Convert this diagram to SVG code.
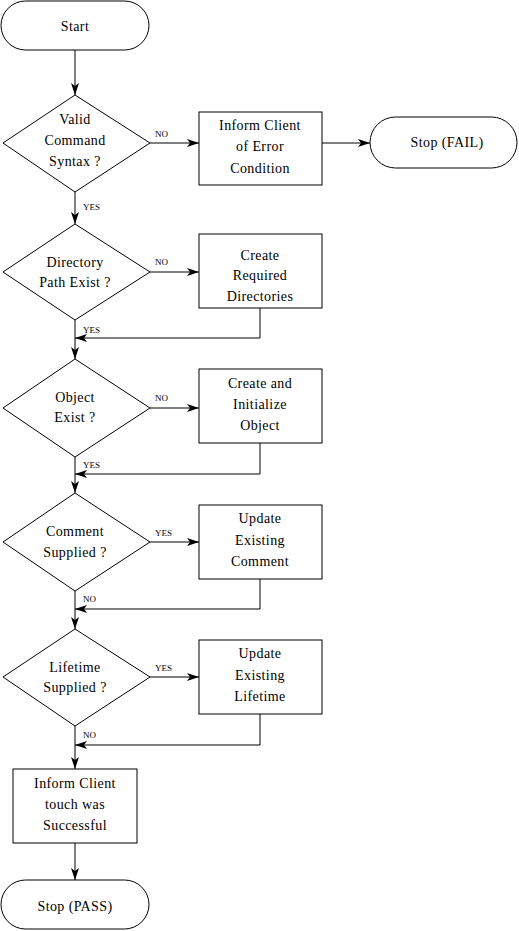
<svg xmlns="http://www.w3.org/2000/svg" width="519" height="931" viewBox="0 0 519 931">
<style>
.s{fill:#fff;stroke:#000;stroke-width:1}
.t{font-family:"Liberation Serif","Times New Roman",serif;font-size:14px;fill:#000;text-anchor:middle;letter-spacing:0.4px}
.l{font-family:"Liberation Serif","Times New Roman",serif;font-size:9px;fill:#000}
.c{fill:none;stroke:#000;stroke-width:1;marker-end:url(#ah)}
</style>
<defs>
<marker id="ah" markerUnits="userSpaceOnUse" viewBox="0 0 12 8" refX="12" refY="4" markerWidth="12" markerHeight="8" orient="auto">
<path d="M0,0 L12,4 L0,8 L3,4 z" fill="#000"/>
</marker>
</defs>
<g id="connectors">
<path class="c" d="M75,50 V95"/>
<path class="c" d="M150,143 H199"/>
<path class="c" d="M322,143 H370"/>
<path class="c" d="M75,192 V224"/>
<path class="c" d="M150,272 H199"/>
<path class="c" d="M260,308 V338 H75"/>
<path class="c" d="M75,320 V359"/>
<path class="c" d="M150,408 H199"/>
<path class="c" d="M260,443 V474 H75"/>
<path class="c" d="M75,457 V493"/>
<path class="c" d="M150,542 H199"/>
<path class="c" d="M260,579 V609 H75"/>
<path class="c" d="M75,591 V629"/>
<path class="c" d="M150,677 H199"/>
<path class="c" d="M260,714 V745 H75"/>
<path class="c" d="M75,726 V769"/>
<path class="c" d="M75,843 V880"/>
<text class="l" x="155" y="137">NO</text>
<text class="l" x="83" y="210">YES</text>
<text class="l" x="155" y="265">NO</text>
<text class="l" x="83" y="333">YES</text>
<text class="l" x="155" y="401">NO</text>
<text class="l" x="83" y="468">YES</text>
<text class="l" x="155" y="536">YES</text>
<text class="l" x="83" y="602">NO</text>
<text class="l" x="155" y="671">YES</text>
<text class="l" x="83" y="738">NO</text>
</g>
<g id="start">
<rect class="s" x="1" y="1" width="148" height="49" rx="24.5"/>
<text class="t" x="75" y="31">Start</text>
</g>
<g id="valid-syntax">
<polygon class="s" points="75,95 150,143 75,192 3,143"/>
<text class="t" x="75" y="124">Valid</text>
<text class="t" x="75" y="145">Command</text>
<text class="t" x="75" y="166">Syntax ?</text>
</g>
<g id="inform-error">
<rect class="s" x="199" y="112" width="123" height="73"/>
<text class="t" x="260" y="130">Inform Client</text>
<text class="t" x="260" y="151">of Error</text>
<text class="t" x="260" y="173">Condition</text>
</g>
<g id="stop-fail">
<rect class="s" x="370" y="117" width="147" height="51" rx="25.5"/>
<text class="t" x="447" y="147">Stop (FAIL)</text>
</g>
<g id="dir-exist">
<polygon class="s" points="75,224 150,272 75,320 3,272"/>
<text class="t" x="75" y="267">Directory</text>
<text class="t" x="75" y="287">Path Exist ?</text>
</g>
<g id="create-dirs">
<rect class="s" x="199" y="234" width="123" height="74"/>
<text class="t" x="260" y="260">Create</text>
<text class="t" x="260" y="280">Required</text>
<text class="t" x="260" y="301">Directories</text>
</g>
<g id="object-exist">
<polygon class="s" points="75,359 150,408 75,457 3,408"/>
<text class="t" x="75" y="402">Object</text>
<text class="t" x="75" y="422">Exist ?</text>
</g>
<g id="create-object">
<rect class="s" x="199" y="369" width="123" height="74"/>
<text class="t" x="260" y="388">Create and</text>
<text class="t" x="260" y="409">Initialize</text>
<text class="t" x="260" y="430">Object</text>
</g>
<g id="comment-supplied">
<polygon class="s" points="75,493 150,542 75,591 3,542"/>
<text class="t" x="75" y="536">Comment</text>
<text class="t" x="75" y="557">Supplied ?</text>
</g>
<g id="update-comment">
<rect class="s" x="199" y="505" width="123" height="74"/>
<text class="t" x="260" y="523">Update</text>
<text class="t" x="260" y="545">Existing</text>
<text class="t" x="260" y="566">Comment</text>
</g>
<g id="lifetime-supplied">
<polygon class="s" points="75,629 150,677 75,726 3,677"/>
<text class="t" x="75" y="672">Lifetime</text>
<text class="t" x="75" y="692">Supplied ?</text>
</g>
<g id="update-lifetime">
<rect class="s" x="199" y="640" width="123" height="74"/>
<text class="t" x="260" y="658">Update</text>
<text class="t" x="260" y="680">Existing</text>
<text class="t" x="260" y="701">Lifetime</text>
</g>
<g id="inform-success">
<rect class="s" x="13" y="769" width="124" height="74"/>
<text class="t" x="75" y="788">Inform Client</text>
<text class="t" x="75" y="809">touch was</text>
<text class="t" x="75" y="830">Successful</text>
</g>
<g id="stop-pass">
<rect class="s" x="1" y="880" width="148" height="49" rx="24.5"/>
<text class="t" x="75" y="911">Stop (PASS)</text>
</g>
</svg>
